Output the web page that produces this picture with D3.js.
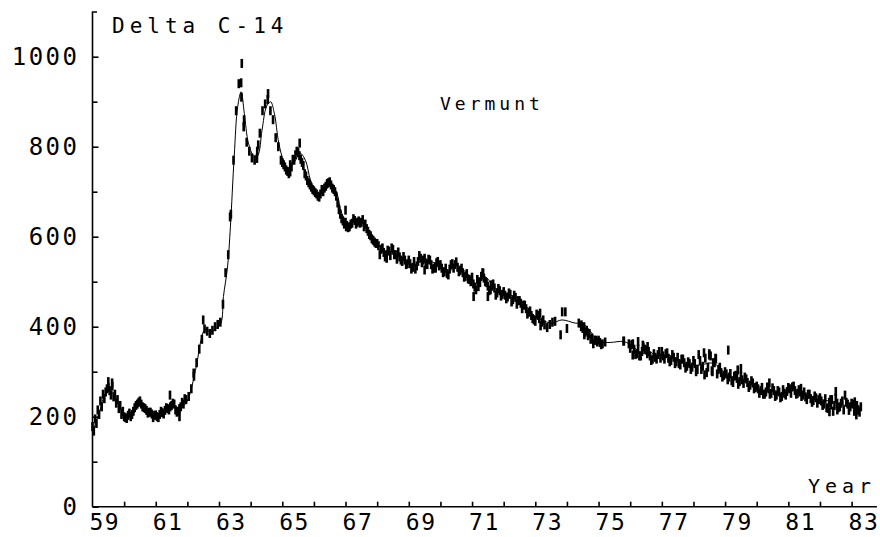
<!DOCTYPE html>
<html>
<head>
<meta charset="utf-8">
<script src="https://cdn.jsdelivr.net/npm/d3@7"></script>
<style>
  body { margin: 0; background: #fff; }
  text { font-family: "DejaVu Sans Mono", monospace; fill: #000; }
  .axis path, .axis line { stroke: #000; stroke-width: 1.6; }
</style>
</head>
<body>
<svg width="880" height="537"></svg>
<script>
// smooth fitted curve (year, delta C-14)
var curveYears = [1959.0, 1959.12, 1959.24, 1959.4, 1959.56, 1959.72, 1959.87, 1960.08, 1960.3, 1960.48, 1960.67, 1960.88,
  1961.09, 1961.3, 1961.5, 1961.77, 1961.98, 1962.14, 1962.3, 1962.43, 1962.55, 1962.74, 1962.9, 1963.06, 1963.14,
  1963.27, 1963.36, 1963.48, 1963.59, 1963.7, 1963.8, 1963.93, 1964.09, 1964.22, 1964.36, 1964.5, 1964.63, 1964.75,
  1964.89, 1965.05, 1965.2, 1965.36, 1965.57, 1965.73, 1965.89, 1966.04, 1966.2, 1966.41, 1966.57, 1966.73, 1966.88,
  1967.09, 1967.3, 1967.56, 1967.77, 1967.98, 1968.19, 1968.4, 1968.7, 1968.94, 1969.2, 1969.47, 1969.73, 1970.0,
  1970.26, 1970.52, 1970.73, 1970.94, 1971.15, 1971.41, 1971.68, 1971.94, 1972.2, 1972.46, 1972.73, 1972.94, 1973.2,
  1973.52, 1973.84, 1974.26, 1974.53, 1974.79, 1975.0, 1975.37, 1975.79, 1976.1, 1976.36, 1976.63, 1976.89, 1977.16,
  1977.58, 1977.9, 1978.21, 1978.63, 1978.95, 1979.26, 1979.58, 1979.9, 1980.21, 1980.53, 1980.84, 1981.16, 1981.47,
  1981.79, 1982.1, 1982.42, 1982.74, 1983.05, 1983.28];
var curveValues = [168, 190, 215, 250, 259, 244, 222, 200, 207, 231, 219, 207,
  202, 211, 226, 219, 233, 267, 319, 370, 393, 389, 396, 408, 467,
  533, 622, 778, 889, 922, 874, 808, 781, 781, 837, 889, 900, 874,
  808, 767, 752, 763, 785, 770, 726, 700, 693, 707, 715, 696, 652,
  630, 633, 633, 611, 589, 570, 563, 556, 544, 537, 552, 544, 537,
  522, 537, 526, 511, 493, 511, 489, 478, 470, 463, 444, 426, 415,
  408, 415, 408, 406, 385, 367, 365, 367, 356, 341, 344, 330, 337,
  326, 315, 315, 319, 300, 285, 282, 270, 256, 259, 248, 259, 252,
  241, 237, 233, 226, 222, 219];

// monthly observations, one row per year starting 1959 (null = no sample)
var obsStartYear = 1959;
var obsMonthly = [
  [168, 185, 205, 222, 240, 262, 258, 268, 250, 238, 225, 212],
  [198, 203, 200, 212, 225, 232, 228, 220, 214, 210, 206, 203],
  [200, 205, 209, 214, 218, 222, 230, 215, 212, 222, 228, 238],
  [245, 262, 290, 320, 350, 372, 395, 390, 385, 392, 400, 405],
  [410, 450, 520, 560, 650, 770, 880, 940, 910, 860, 810, 790],
  [775, 770, 790, 830, 880, 895, 905, 880, 860, 820, 800, 770],
  [760, 748, 740, 755, 770, 790, 780, 765, 740, 725, 715, 705],
  [698, 690, 695, 700, 712, 720, 715, 705, 690, 660, 640, 628],
  [625, 622, 630, 636, 632, 630, 638, 628, 612, 602, 592, 585],
  [580, 572, 565, 560, 568, 575, 560, 550, 555, 545, 548, 540],
  [540, 532, 528, 545, 552, 548, 540, 550, 538, 530, 542, 535],
  [530, 522, 518, 528, 540, 538, 532, 525, 520, 512, 506, 500],
  [495, 482, 500, 512, 508, 498, 480, 490, 486, 475, 480, 472],
  [470, 466, 472, 460, 465, 458, 452, 448, 440, 432, 425, 415],
  [428, 418, 410, 404, 398, 405, 410, 412, null, null, null, null],
  [null, null, null, null, 408, 404, 400, 392, 385, 375, 370, 366],
  [365, 362, 366, null, null, null, null, null, null, 368, null, 362],
  [360, 350, 340, 335, 345, 350, 340, 335, 328, 332, 338, 330],
  [335, 340, 330, 325, 332, 322, 318, 328, 320, 312, 318, 310],
  [318, 305, 325, 312, 330, 310, 335, 320, 328, 305, 298, 292],
  [295, 288, 280, 290, 285, 278, 282, 288, 276, 270, 275, 265],
  [262, 258, 250, 255, 262, 252, 258, 248, 255, 245, 252, 256],
  [262, 266, 258, 252, 255, 248, 244, 250, 240, 236, 242, 238],
  [235, 228, 220, 232, 238, 225, 230, 222, 235, 248, 228, 222],
  [228, 218, 215, 222, null, null, null, null, null, null, null, null]
];

// second sample of each month (taken at the start of the month)
var obsSecond = [
  [178, 195, 215, 235, 250, 255, 265, 248, 244, 230, 218, 205],
  [200, 196, 208, 205, 220, 228, 235, 222, 218, 208, 210, 198],
  [204, 198, 212, 206, 220, 215, 225, 228, 210, 218, 232, 240],
  [null, null, null, null, null, null, null, null, null, null, null, null],
  [null, null, null, null, null, null, null, null, null, null, null, null],
  [null, null, null, null, null, null, null, null, null, null, null, null],
  [765, 755, 745, 760, 772, 782, 788, 772, 758, 735, 720, 710],
  [702, 695, 688, 705, 708, 718, 722, 708, 700, 675, 650, 635],
  [632, 620, 628, 640, 628, 635, 632, 622, 618, 605, 595, 588],
  [585, 560, 575, 555, 570, 558, 572, 560, 566, 548, 556, 538],
  [548, 528, 545, 535, 558, 542, 552, 538, 548, 528, 532, 545],
  [538, 520, 530, 515, 538, 530, 544, 522, 530, 510, 518, 505],
  [510, 488, 505, 498, 520, 500, 490, 482, 495, 470, 485, 468],
  [478, 462, 475, 455, 470, 450, 458, 440, 448, 428, 435, 418],
  [412, 425, 402, 415, null, null, null, null, null, null, null, null],
  [null, null, null, null, null, null, 396, 388, 380, 372, 362, 370],
  [370, 360, null, null, null, null, null, null, null, null, null, null],
  [352, 362, 338, 350, 335, 355, 348, 345, 325, 340, 328, 345],
  [345, 328, 342, 322, 338, 318, 332, 315, 328, 308, 322, 305],
  [325, 300, 338, 305, 342, 298, 340, 302, 320, 295, 310, 288],
  [300, 282, 296, 276, 292, 272, 290, 274, 284, 265, 280, 262],
  [268, 252, 265, 250, 266, 250, 264, 245, 258, 242, 260, 248],
  [265, 252, 268, 250, 260, 245, 255, 238, 250, 232, 246, 230],
  [242, 225, 240, 218, 238, 212, 242, 220, 230, 215, 232, 214],
  [230, 212, 225, 210, null, null, null, null, null, null, null, null]
];

// extra samples off the main band
var extraYears = [1959.5, 1959.62, 1961.45, 1961.75, 1962.5, 1962.2, 1963.35, 1963.7, 1963.72, 1963.78,
  1964.2, 1964.24, 1964.55, 1965.25, 1965.55, 1967.0, 1967.02, 1968.3, 1969.5, 1969.85,
  1971.05, 1971.2, 1971.35, 1971.5, 1971.6, 1973.15, 1973.85, 1973.95, 1974.0, 1973.8,
  1974.45, 1974.55, 1975.8, 1976.25, 1976.4, 1976.55, 1976.08, 1978.35, 1978.5, 1978.6,
  1978.7, 1979.1, 1979.4, 1979.5, 1980.4, 1981.4, 1982.3, 1982.5, 1982.55, 1982.35,
  1983.1, 1983.2, 1983.15];
var extraValues = [278, 275, 248, 200, 415, 297, 644, 942, 985, 844,
  774, 804, 918, 744, 808, 659, 622, 552, 526, 530,
  467, 489, 519, 467, 493, 430, 433, 433, 396, 382,
  400, 382, 368, 367, 359, 356, 337, 293, 337, 300,
  330, 348, 304, 307, 275, 263, 211, 256, 215, 226,
  233, 215, 204];

var yMajor = [0, 200, 400, 600, 800, 1000];
var yMinor = [100, 300, 500, 700, 900];
var xLabelYears = [1959, 1961, 1963, 1965, 1967, 1969, 1971, 1973, 1975, 1977, 1979, 1981, 1983];

var svg = d3.select("svg");

var x = d3.scaleLinear().domain([1959, 1983]).range([92.5, 851.6]);
var y = d3.scaleLinear().domain([0, 1000]).range([506.7, 56.7]);

// observations as flat list
var obs = [];
obsMonthly.forEach(function(row, i) {
  row.forEach(function(v, m) {
    if (v != null) obs.push({t: obsStartYear + i + (m + 0.5) / 12, v: v});
  });
});
obsSecond.forEach(function(row, i) {
  row.forEach(function(v, m) {
    if (v != null) obs.push({t: obsStartYear + i + m / 12, v: v});
  });
});
extraYears.forEach(function(t, i) { obs.push({t: t, v: extraValues[i]}); });

// axes
var yAxis = d3.axisLeft(y).tickValues(yMajor).tickSize(-6).tickPadding(13)
  .tickFormat(function(d) { return d; });
var gy = svg.append("g").attr("class", "axis")
  .attr("transform", "translate(92.5,0)")
  .call(yAxis);
gy.select(".domain").remove();
gy.selectAll("text").style("font-size", "24px").style("letter-spacing", "2.5px");

var gy2 = svg.append("g").attr("class", "axis")
  .attr("transform", "translate(92.5,0)")
  .call(d3.axisLeft(y).tickValues(yMinor).tickSize(-5).tickFormat(""));
gy2.select(".domain").remove();

// y axis line with the little hook on top
svg.append("path")
  .attr("d", "M97,12H92.5V" + y(0))
  .attr("fill", "none").attr("stroke", "#000").attr("stroke-width", 1.6);

var xAxis = d3.axisBottom(x).tickValues(d3.range(1960, 1984)).tickSize(-5).tickFormat("");
var gx = svg.append("g").attr("class", "axis")
  .attr("transform", "translate(0," + y(0) + ")")
  .call(xAxis);
gx.select(".domain").remove();
svg.append("line")
  .attr("x1", x(1959)).attr("x2", x(1983.8))
  .attr("y1", y(0)).attr("y2", y(0))
  .attr("stroke", "#000").attr("stroke-width", 1.6);

svg.selectAll(".xlab")
  .data(xLabelYears)
  .enter().append("text")
  .attr("class", "xlab")
  .attr("x", function(d) { return x(d) - 3; })
  .attr("y", 530)
  .style("font-size", "23px")
  .style("letter-spacing", "1.5px")
  .text(function(d) { return String(d).slice(2); });

// fitted line
var line = d3.line()
  .curve(d3.curveCatmullRom.alpha(0.5))
  .x(function(d, i) { return x(curveYears[i]); })
  .y(function(d) { return y(d); });

svg.append("path")
  .datum(curveValues)
  .attr("d", line)
  .attr("fill", "none")
  .attr("stroke", "#000")
  .attr("stroke-width", 1);

// observations as short vertical bars
svg.selectAll(".obs")
  .data(obs)
  .enter().append("rect")
  .attr("class", "obs")
  .attr("x", function(d) { return x(d.t) - 1.3; })
  .attr("y", function(d) { return y(d.v) - 4.5; })
  .attr("width", 2.6)
  .attr("height", 9)
  .attr("fill", "#000");

// labels
svg.append("text").attr("x", 112).attr("y", 33)
  .style("font-size", "21px").style("letter-spacing", "5px").text("Delta C-14");
svg.append("text").attr("x", 440).attr("y", 110)
  .style("font-size", "18px").style("letter-spacing", "4px").text("Vermunt");
svg.append("text").attr("x", 808).attr("y", 493)
  .style("font-size", "20px").style("letter-spacing", "5px").text("Year");
</script>
</body>
</html>
